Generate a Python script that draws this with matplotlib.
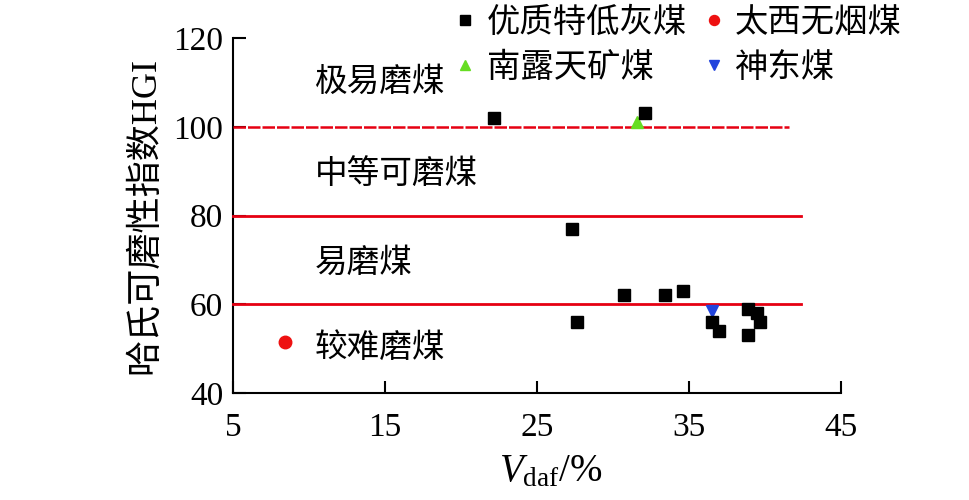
import matplotlib
matplotlib.use("Agg")
import matplotlib.pyplot as plt

plt.rcParams['font.family'] = ['Liberation Serif', 'Noto Sans CJK SC', 'DejaVu Sans']
plt.rcParams['mathtext.fontset'] = 'custom'
plt.rcParams['mathtext.rm'] = 'Liberation Serif'
plt.rcParams['mathtext.it'] = 'Liberation Serif:italic'

# Data
premium_x = [22.2, 32.1, 27.3, 27.6, 30.7, 33.4, 34.6, 36.5, 37.0, 38.9, 38.9, 39.5, 39.7]
premium_y = [102, 103, 77, 56, 62, 62, 63, 56, 54, 59, 53, 58, 56]
taixi_x = [8.4]
taixi_y = [51.5]
nanlu_x = [31.6]
nanlu_y = [101]
shendong_x = [36.5]
shendong_y = [58.4]

series_labels = ['优质特低灰煤', '太西无烟煤', '南露天矿煤', '神东煤']
boundaries = [100, 80, 60]
boundary_ends = [41.6, 42.4, 42.4]
zone_labels = ['极易磨煤', '中等可磨煤', '易磨煤', '较难磨煤']
zone_y = [110.1, 89.1, 69.3, 50.2]
x_ticks = [5, 15, 25, 35, 45]
y_ticks = [40, 60, 80, 100, 120]

fig = plt.figure(figsize=(9.7, 5.0), dpi=100)
ax = fig.add_axes([233/970, 1-393/500, (841-233)/970, (393-38)/500])

for yb, xe in zip(boundaries, boundary_ends):
    if yb == 100:
        ax.plot([5, xe], [yb, yb], color='#e60012', lw=1.8, dashes=(5, 0.8),
                zorder=3, clip_on=False)
    else:
        ax.plot([5, xe], [yb, yb], color='#e60012', lw=2.0, zorder=3, clip_on=False)

h1, = ax.plot(premium_x, premium_y, 's', color='black', ms=9, ls='none', zorder=5)
h2, = ax.plot(taixi_x, taixi_y, 'o', color='#ee1111', ms=9, ls='none', zorder=5)
h3, = ax.plot(nanlu_x, nanlu_y, '^', color='#66dd22', ms=9, ls='none', zorder=4)
h4, = ax.plot(shendong_x, shendong_y, 'v', color='#2244dd', ms=9, ls='none', zorder=4)

for lab, yy in zip(zone_labels, zone_y):
    ax.text(10.4, yy, lab, fontsize=23.5, va='center', ha='left',
            family=['Noto Sans CJK SC'])

ax.set_xlim(5, 45)
ax.set_ylim(40, 120)
ax.set_xticks(x_ticks)
ax.set_yticks(y_ticks)
ax.tick_params(direction='in', length=9, width=1.5, labelsize=24)
ax.tick_params(axis='x', pad=14)
ax.tick_params(axis='y', pad=7)
for s in ['top', 'right']:
    ax.spines[s].set_visible(False)
for s in ['left', 'bottom']:
    ax.spines[s].set_linewidth(1.5)

ax.set_ylabel('哈氏可磨性指数HGI', fontsize=26, labelpad=8)
ax.set_xlabel(r'$V_{\rm daf}$/%', fontsize=28, labelpad=4)
ax.xaxis.set_label_coords((551-233)/608, -0.17)

leg = fig.legend([h1, h3, h2, h4], [series_labels[0], series_labels[2], series_labels[1], series_labels[3]],
                 ncol=2, frameon=False,
                 loc='upper left', bbox_to_anchor=(425/970, 1.05),
                 prop={'family': ['Noto Sans CJK SC'], 'size': 24},
                 handlelength=0.6, handletextpad=0.35, columnspacing=0.5,
                 labelspacing=0.3, markerscale=0.8)

fig.savefig('out.png', dpi=100)
